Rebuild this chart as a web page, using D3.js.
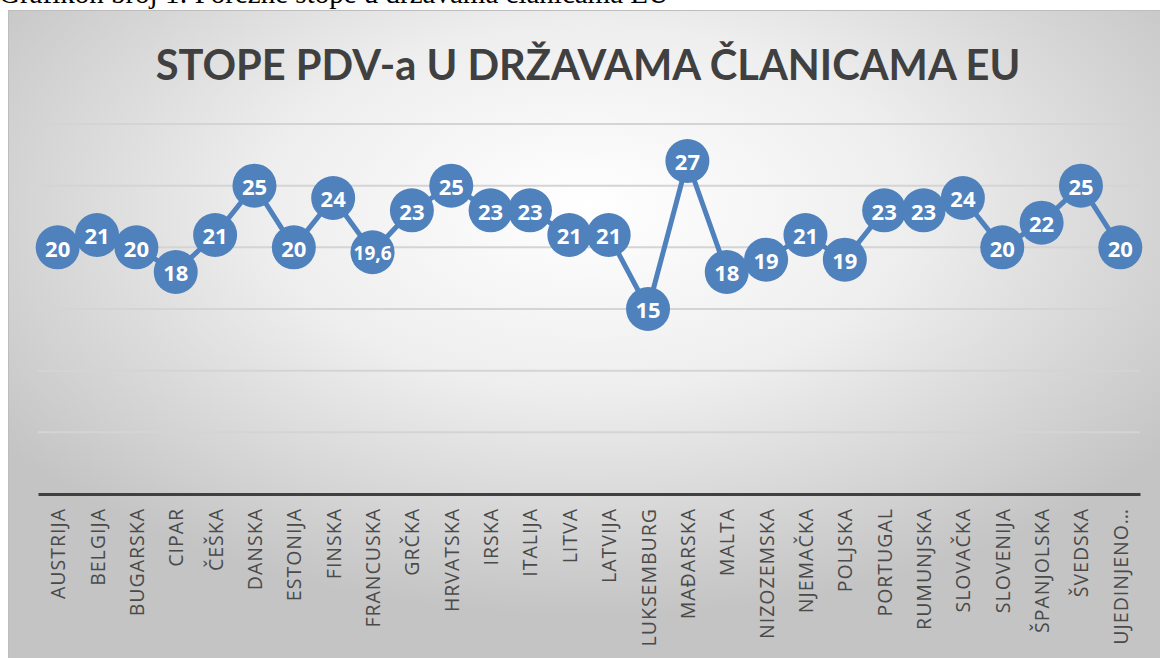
<!DOCTYPE html>
<html>
<head>
<meta charset="utf-8">
<script src="https://cdn.jsdelivr.net/npm/d3@7"></script>
<style>
  body { margin: 0; background: #fff; }
  svg { display: block; }
</style>
</head>
<body>
<div id="chart"></div>
<script>
// Chart data
const countries = ['AUSTRIJA', 'BELGIJA', 'BUGARSKA', 'CIPAR', 'ČEŠKA', 'DANSKA', 'ESTONIJA',
    'FINSKA', 'FRANCUSKA', 'GRČKA', 'HRVATSKA', 'IRSKA', 'ITALIJA', 'LITVA', 'LATVIJA',
    'LUKSEMBURG', 'MAĐARSKA', 'MALTA', 'NIZOZEMSKA', 'NJEMAČKA', 'POLJSKA', 'PORTUGAL',
    'RUMUNJSKA', 'SLOVAČKA', 'SLOVENIJA', 'ŠPANJOLSKA', 'ŠVEDSKA', 'UJEDINJENO…'];
const rates = [20, 21, 20, 18, 21, 25, 20, 24, 19.6, 23, 25, 23, 23, 21, 21,
    15, 27, 18, 19, 21, 19, 23, 23, 24, 20, 22, 25, 20];
const gridTicks = [5, 10, 15, 20, 25, 30];

const width = 1160;
const height = 658;
const blue = '#4f81bd';

const svg = d3.select('#chart')
    .append('svg')
    .attr('width', width)
    .attr('height', height);

// Background gradient for the chart area
const grad = svg.append('defs')
    .append('radialGradient')
    .attr('id', 'bg')
    .attr('cx', '0.5').attr('cy', '0.3').attr('r', '0.62');
grad.append('stop').attr('offset', '0').attr('stop-color', '#ffffff');
grad.append('stop').attr('offset', '0.45').attr('stop-color', '#eeeeee');
grad.append('stop').attr('offset', '1').attr('stop-color', '#c4c4c4');

// Document caption (cut off at the top, as in the source page)
svg.append('text')
    .attr('x', -1)
    .attr('y', 3)
    .attr('font-family', '"Liberation Serif", "Times New Roman", serif')
    .attr('font-size', '29px')
    .attr('fill', '#000')
    .text('Grafikon broj 1: Porezne stope u državama članicama EU');

svg.append('rect')
    .attr('x', 8.5)
    .attr('y', 10.5)
    .attr('width', width)
    .attr('height', height)
    .attr('fill', 'url(#bg)')
    .attr('stroke', '#bdbdbd')
    .attr('stroke-width', 1);

// Title, sized to the width of the original
const title = svg.append('text')
    .attr('x', 588)
    .attr('y', 80)
    .attr('text-anchor', 'middle')
    .attr('font-family', 'Lato, "Open Sans", sans-serif')
    .attr('font-weight', 'bold')
    .attr('font-size', '40px')
    .attr('fill', '#404040')
    .text('STOPE PDV-a U DRŽAVAMA ČLANICAMA EU');
const tw = title.node().getComputedTextLength();
title.attr('font-size', (40 * 865 / tw).toFixed(1) + 'px');

// Scales
const x = d3.scalePoint()
    .domain(countries)
    .range([38, 1140])
    .padding(0.5);

const y = d3.scaleLinear()
    .domain([0, 30])
    .range([494, 124]);

// Gridlines
svg.append('g')
    .selectAll('line')
    .data(gridTicks)
    .enter().append('line')
    .attr('x1', 38)
    .attr('x2', 1140)
    .attr('y1', d => y(d))
    .attr('y2', d => y(d))
    .attr('stroke', '#d4d4d4')
    .attr('stroke-width', 2);

// Category axis
const xAxis = svg.append('g')
    .attr('transform', `translate(0,${y(0)})`)
    .call(d3.axisBottom(x).tickSize(0).tickSizeOuter(0));

xAxis.select('.domain')
    .attr('stroke', '#404040')
    .attr('stroke-width', 3);

xAxis.selectAll('text')
    .attr('font-family', '"Open Sans", sans-serif')
    .attr('font-size', '19.5px')
    .attr('letter-spacing', '1px')
    .attr('fill', '#4a4a4a')
    .attr('text-anchor', 'end')
    .attr('transform', 'rotate(-90)')
    .attr('x', -14)
    .attr('y', 0)
    .attr('dy', '0.36em');

// Line
const line = d3.line()
    .x((d, i) => x(countries[i]))
    .y(d => y(d));

svg.append('path')
    .datum(rates)
    .attr('fill', 'none')
    .attr('stroke', blue)
    .attr('stroke-width', 5)
    .attr('stroke-linejoin', 'round')
    .attr('d', line);

// Markers with value labels
const pts = svg.append('g')
    .selectAll('g')
    .data(rates)
    .enter().append('g')
    .attr('transform', (d, i) => `translate(${x(countries[i])},${y(d)})`);

pts.append('circle')
    .attr('r', 22)
    .attr('fill', blue);

pts.append('text')
    .attr('text-anchor', 'middle')
    .attr('dy', '0.42em')
    .attr('font-family', '"Open Sans", sans-serif')
    .attr('font-weight', 'bold')
    .attr('font-size', d => String(d).length > 2 ? '19px' : '22px')
    .attr('fill', '#fff')
    .text(d => String(d).replace('.', ','));
</script>
</body>
</html>
